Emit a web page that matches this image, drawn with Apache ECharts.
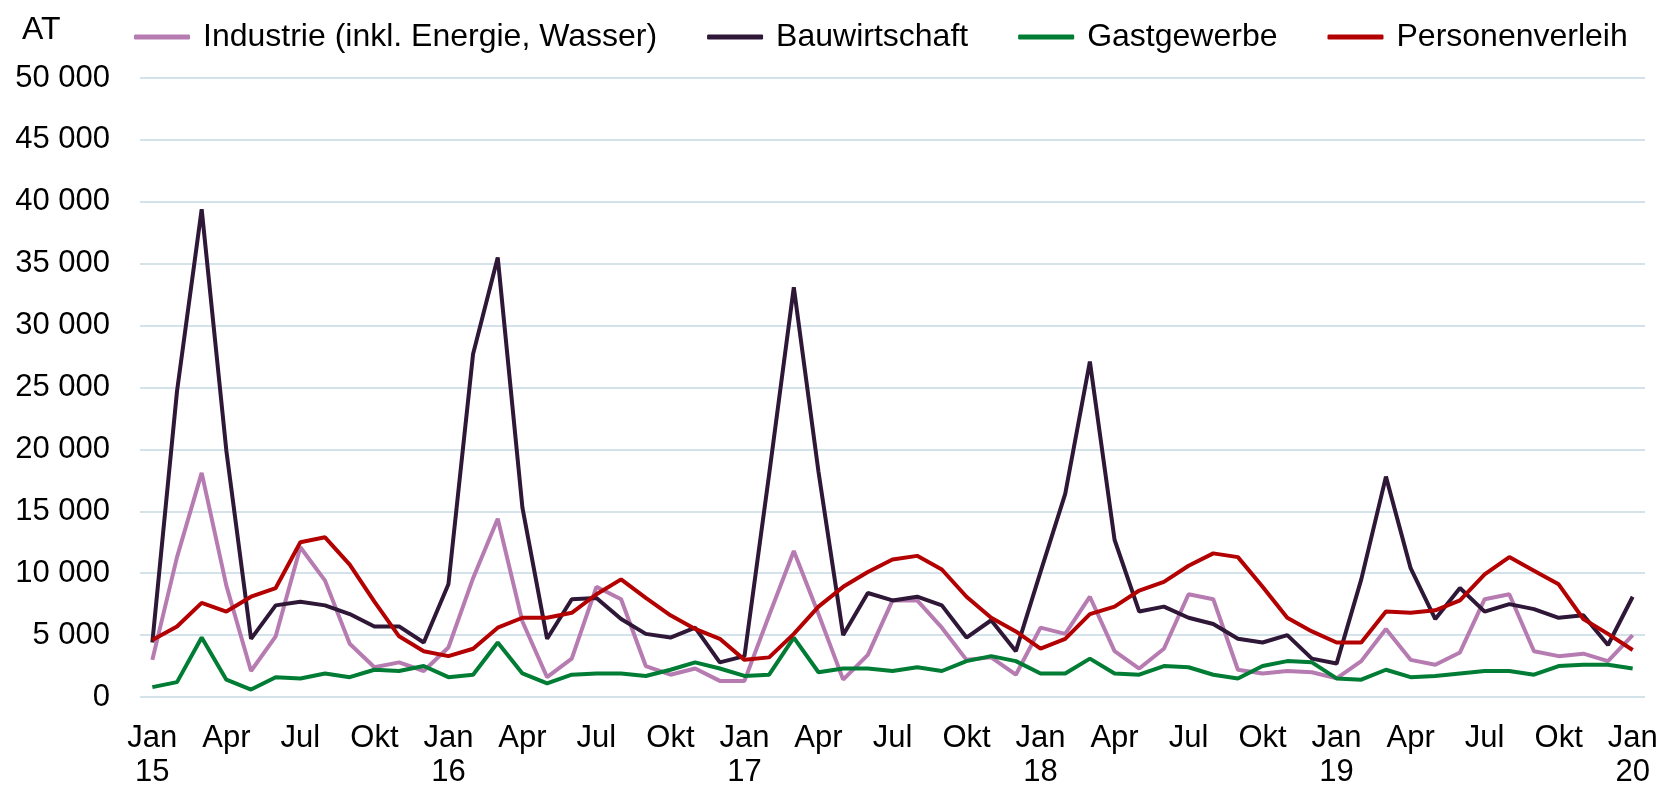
<!DOCTYPE html>
<html lang="de">
<head>
    <meta charset="UTF-8">
    <title>AT nach Branche</title>
    <script src="https://cdn.jsdelivr.net/npm/echarts@6/dist/echarts.min.js"></script>
    <style>
        body {
            margin: 0;
            padding: 0;
            background: #fff;
        }

        #main {
            width: 1661px;
            height: 789px;
        }
    </style>
</head>
<body>
    <div id="main"></div>

    <script>
        // Monate Jan 15 bis Jan 20
        var monthNames = ['Jan', 'Feb', 'Mär', 'Apr', 'Mai', 'Jun', 'Jul', 'Aug', 'Sep', 'Okt', 'Nov', 'Dez'];
        var years = ['15', '16', '17', '18', '19', '20'];

        var industrie = [3000, 11300, 18100, 9000, 2100, 4900, 12100, 9400, 4300, 2400, 2800, 2100,
            4000, 9600, 14400, 6100, 1600, 3100, 8900, 7900, 2500, 1800, 2300, 1300,
            1300, 6600, 11800, 6700, 1400, 3400, 7800, 7800, 5600, 3000, 3200, 1800,
            5600, 5100, 8100, 3700, 2300, 3900, 8300, 7900, 2200, 1900, 2100, 2000,
            1500, 2900, 5500, 3000, 2600, 3600, 7900, 8300, 3700, 3300, 3500, 2900,
            5000];

        var bauwirtschaft = [4400, 24700, 39400, 19900, 4700, 7400, 7700, 7400, 6700, 5700, 5700, 4400,
            9100, 27700, 35500, 15300, 4700, 7900, 8000, 6300, 5100, 4800, 5600, 2800,
            3300, 18000, 33100, 18200, 5000, 8400, 7800, 8100, 7400, 4800, 6200, 3700,
            10100, 16400, 27100, 12700, 6900, 7300, 6400, 5900, 4700, 4400, 5000, 3100,
            2700, 9500, 17800, 10400, 6300, 8800, 6900, 7500, 7100, 6400, 6600, 4200,
            8100];

        var gastgewerbe = [800, 1200, 4800, 1400, 600, 1600, 1500, 1900, 1600, 2200, 2100, 2500,
            1600, 1800, 4400, 1900, 1100, 1800, 1900, 1900, 1700, 2200, 2800, 2300,
            1700, 1800, 4800, 2000, 2300, 2300, 2100, 2400, 2100, 2900, 3300, 2900,
            1900, 1900, 3100, 1900, 1800, 2500, 2400, 1800, 1500, 2500, 2900, 2800,
            1500, 1400, 2200, 1600, 1700, 1900, 2100, 2100, 1800, 2500, 2600, 2600,
            2300];

        var personenverleih = [4600, 5700, 7600, 6900, 8100, 8800, 12500, 12900, 10700, 7700, 4900, 3700,
            3300, 3900, 5600, 6400, 6400, 6800, 8300, 9500, 8000, 6600, 5500, 4700,
            3000, 3200, 5100, 7300, 8900, 10100, 11100, 11400, 10300, 8100, 6400, 5300,
            3900, 4700, 6700, 7300, 8600, 9300, 10600, 11600, 11300, 8900, 6400, 5300,
            4400, 4400, 6900, 6800, 7000, 7800, 9900, 11300, 10200, 9100, 6300, 5100,
            3800];

        // Kategorien: Januar bekommt das Jahr in der zweiten Zeile
        var categories = [];
        for (var i = 0; i < industrie.length; i++) {
            var m = i % 12;
            var name = monthNames[m];
            if (m === 0) {
                name += '\n' + years[i / 12];
            }
            categories.push(name);
        }

        var fontName = "'Liberation Sans', Arial, sans-serif";

        function lineSeries(name, values, color) {
            return {
                name: name,
                type: 'line',
                data: values,
                symbol: 'none',
                lineStyle: { color: color, width: 4 },
                itemStyle: { color: color }
            };
        }

        var myChart = echarts.init(document.getElementById('main'));

        var option = {
            animation: false,
            textStyle: { fontFamily: fontName },
            title: {
                text: 'AT',
                left: 17,
                top: 9,
                textStyle: { fontSize: 32, fontWeight: 'normal', color: '#000', fontFamily: fontName }
            },
            legend: {
                left: 129,
                top: 16,
                icon: 'roundRect',
                itemWidth: 56,
                itemHeight: 5,
                itemGap: 50,
                textStyle: { fontSize: 32, color: '#000', padding: [0, 0, 0, 8], fontFamily: fontName },
                data: ['Industrie (inkl. Energie, Wasser)', 'Bauwirtschaft', 'Gastgewerbe', 'Personenverleih']
            },
            grid: {
                left: 140,
                right: 16,
                top: 78,
                bottom: 86
            },
            xAxis: {
                type: 'category',
                data: categories,
                boundaryGap: true,
                axisLine: { show: false },
                axisTick: { show: false },
                axisLabel: {
                    interval: 2,
                    fontSize: 31,
                    lineHeight: 34,
                    margin: 24,
                    color: '#000',
                    fontFamily: fontName
                }
            },
            yAxis: {
                type: 'value',
                min: 0,
                max: 50000,
                interval: 5000,
                axisLine: { show: false },
                axisTick: { show: false },
                splitLine: { lineStyle: { color: '#c6d9e2', width: 1.5 } },
                axisLabel: {
                    fontSize: 31,
                    margin: 30,
                    color: '#000',
                    fontFamily: fontName,
                    formatter: function (v) {
                        return String(v).replace(/\B(?=(\d{3})+(?!\d))/g, ' ');
                    }
                }
            },
            series: [
                lineSeries('Industrie (inkl. Energie, Wasser)', industrie, '#b67cb1'),
                lineSeries('Bauwirtschaft', bauwirtschaft, '#2e1737'),
                lineSeries('Gastgewerbe', gastgewerbe, '#007c34'),
                lineSeries('Personenverleih', personenverleih, '#b30000')
            ]
        };

        myChart.setOption(option);
    </script>
</body>
</html>
